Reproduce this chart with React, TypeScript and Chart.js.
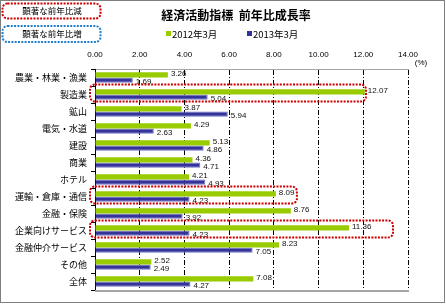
import React, { useEffect, useRef } from 'react';
import { Chart, registerables } from 'chart.js';

Chart.register(...registerables);

const categories = ['農業・林業・漁業', '製造業', '鉱山', '電気・水道', '建設', '商業', 'ホテル', '運輸・倉庫・通信', '金融・保険', '企業向けサービス', '金融仲介サービス', 'その他', '全体'];
const series2012 = [3.26, 12.07, 3.87, 4.29, 5.13, 4.36, 4.21, 8.09, 8.76, 11.36, 8.23, 2.52, 7.08];
const series2013 = [1.69, 5.04, 5.94, 2.63, 4.86, 4.71, 4.93, 4.23, 3.92, 4.23, 7.05, 2.49, 4.27];
const seriesNames = ['2012年3月', '2013年3月'];
const titleText = '経済活動指標  前年比成長率';
const unitText = '(%)';
const xMin = 0;
const xMax = 14;
const xStep = 2;
const highlightRows = ['製造業', '運輸・倉庫・通信', '企業向けサービス'];
const highlightEnds = [12.12, 9.03, 13.33];
const noteLabels = ['顕著な前年比減', '顕著な前年比増'];

const GREEN = '#99CC00';
const BLUE = '#333399';
const RED_DOT = '#CC0000';
const BLUE_DOT = '#1E7FCF';
const NUM_FONT = '"Liberation Sans", Arial, sans-serif';
const JP_FONT = '"Noto Sans CJK JP", "Liberation Sans", sans-serif';

function roundRect(ctx: CanvasRenderingContext2D, x: number, y: number, w: number, h: number, r: number) {
  ctx.beginPath();
  ctx.moveTo(x + r, y);
  ctx.lineTo(x + w - r, y);
  ctx.arcTo(x + w, y, x + w, y + r, r);
  ctx.lineTo(x + w, y + h - r);
  ctx.arcTo(x + w, y + h, x + w - r, y + h, r);
  ctx.lineTo(x + r, y + h);
  ctx.arcTo(x, y + h, x, y + h - r, r);
  ctx.lineTo(x, y + r);
  ctx.arcTo(x, y, x + r, y, r);
  ctx.closePath();
}

const labelsPlugin = {
  id: 'valueLabels',
  afterDatasetsDraw(chart: any) {
    const ctx = chart.ctx as CanvasRenderingContext2D;
    ctx.save();
    ctx.font = '8px ' + NUM_FONT;
    ctx.fillStyle = '#111';
    ctx.textAlign = 'left';
    ctx.textBaseline = 'middle';
    chart.data.datasets.forEach((ds: any, di: number) => {
      const meta = chart.getDatasetMeta(di);
      meta.data.forEach((el: any, i: number) => {
        const v = ds.data[i] as number;
        ctx.fillText(v.toFixed(2), el.x + 3, el.y + (di === 0 ? -1 : 2));
      });
    });
    ctx.restore();
  },
};

const decorPlugin = {
  id: 'decor',
  beforeDraw(chart: any) {
    const ctx = chart.ctx as CanvasRenderingContext2D;
    ctx.save();
    ctx.fillStyle = '#fff';
    ctx.fillRect(0, 0, chart.width, chart.height);
    ctx.restore();
  },
  afterDraw(chart: any) {
    const ctx = chart.ctx as CanvasRenderingContext2D;
    const area = chart.chartArea;
    const xs = chart.scales.x;
    const ys = chart.scales.y;
    ctx.save();

    // bottom plot border
    ctx.strokeStyle = '#A6A6A6';
    ctx.lineWidth = 2;
    ctx.beginPath();
    ctx.moveTo(area.left, area.bottom + 1);
    ctx.lineTo(area.right + 1, area.bottom + 1);
    ctx.stroke();

    // title
    ctx.fillStyle = '#000';
    ctx.font = 'bold 12px ' + JP_FONT;
    ctx.textAlign = 'center';
    ctx.textBaseline = 'middle';
    ctx.fillText(titleText, 236, 15);

    // legend
    ctx.font = '9.5px ' + JP_FONT;
    ctx.textAlign = 'left';
    const legendX = [166, 247];
    chart.data.datasets.forEach((ds: any, i: number) => {
      ctx.fillStyle = ds.backgroundColor;
      ctx.fillRect(legendX[i], 31, 5, 5);
      ctx.fillStyle = '#000';
      ctx.fillText(ds.label, legendX[i] + 6, 34);
    });

    // unit
    ctx.font = '8px ' + NUM_FONT;
    ctx.textAlign = 'center';
    ctx.fillText(unitText, 421, 63);

    // note boxes
    ctx.lineWidth = 2;
    ctx.setLineDash([2, 1.3]);
    const noteCols = [RED_DOT, BLUE_DOT];
    const noteY = [[3.5, 15], [26, 16]];
    noteLabels.forEach((t, i) => {
      ctx.strokeStyle = noteCols[i];
      roundRect(ctx, 2.5, noteY[i][0], 98, noteY[i][1], 5);
      ctx.stroke();
      ctx.fillStyle = '#000';
      ctx.font = '8.5px ' + JP_FONT;
      ctx.textAlign = 'center';
      ctx.textBaseline = 'middle';
      ctx.fillText(t, 52, noteY[i][0] + noteY[i][1] / 2);
    });

    // highlighted rows
    ctx.strokeStyle = RED_DOT;
    const band = (ys.getPixelForValue(1) - ys.getPixelForValue(0));
    highlightRows.forEach((name, i) => {
      const idx = categories.indexOf(name);
      const cy = ys.getPixelForValue(idx);
      const top = cy - band / 2 - 1.5;
      const x0 = area.left - 5;
      const x1 = xs.getPixelForValue(highlightEnds[i]);
      roundRect(ctx, x0, top, x1 - x0, band, 5);
      ctx.stroke();
    });

    // outer frame
    ctx.setLineDash([]);
    ctx.lineWidth = 1;
    ctx.strokeStyle = '#7F7F7F';
    ctx.strokeRect(0.5, 0.5, chart.width - 2, chart.height - 3);
    ctx.restore();
  },
};

export default function App() {
  const ref = useRef<HTMLCanvasElement | null>(null);
  useEffect(() => {
    document.body.style.margin = '0';
    const canvas = ref.current;
    if (!canvas) return;
    const chart = new Chart(canvas, {
      type: 'bar',
      data: {
        labels: categories,
        datasets: [
          {
            label: seriesNames[0],
            data: series2012,
            backgroundColor: GREEN,
            borderWidth: 0,
            categoryPercentage: 0.63,
            barPercentage: 1,
          },
          {
            label: seriesNames[1],
            data: series2013,
            backgroundColor: BLUE,
            borderColor: '#7070C8',
            borderWidth: { top: 1, bottom: 1, left: 0, right: 1 },
            categoryPercentage: 0.63,
            barPercentage: 1,
          },
        ],
      },
      options: {
        indexAxis: 'y',
        responsive: false,
        animation: false,
        devicePixelRatio: 1,
        layout: { padding: { left: 0, right: 38, top: 45, bottom: 15 } },
        plugins: {
          legend: { display: false },
          title: { display: false },
          tooltip: { enabled: false },
        },
        scales: {
          x: {
            position: 'top',
            min: xMin,
            max: xMax,
            afterFit: (s: any) => { s.height = 24; },
            ticks: {
              stepSize: xStep,
              padding: 9,
              color: '#000',
              font: { size: 8, family: NUM_FONT },
              callback: (v: any) => Number(v).toFixed(2),
            },
            grid: {
              color: '#000',
              lineWidth: 1,
              drawTicks: false,
            },
            border: { display: true, color: '#A6A6A6', width: 1, dash: [5, 2, 1, 2] },
          },
          y: {
            afterFit: (s: any) => { s.width = 95; },
            ticks: {
              color: '#000',
              padding: 4,
              autoSkip: false,
              font: { size: 9, family: JP_FONT },
            },
            grid: {
              drawOnChartArea: false,
              drawTicks: true,
              tickLength: 4,
              color: '#000',
            },
            border: { display: true, color: '#000', width: 1 },
          },
        },
      },
      plugins: [decorPlugin, labelsPlugin],
    } as any);
    return () => chart.destroy();
  }, []);
  return (
    <div style={{ width: 446, height: 305 }}>
      <canvas ref={ref} width={446} height={305} />
    </div>
  );
}
